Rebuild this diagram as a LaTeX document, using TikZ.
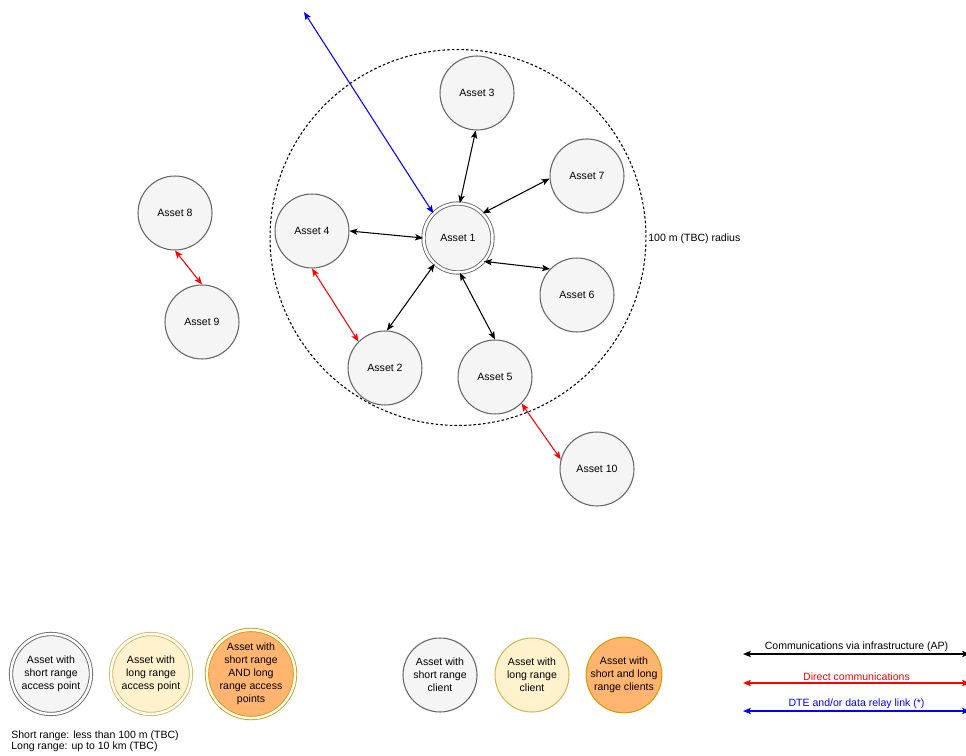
\documentclass[tikz,border=0pt]{standalone}
\usepackage{fontspec}
\setmainfont{Liberation Sans}
\usetikzlibrary{arrows.meta}

\definecolor{greyfill}{HTML}{F5F5F5}
\definecolor{greyline}{HTML}{666666}
\definecolor{yellowfill}{HTML}{FFF2CC}
\definecolor{yellowline}{HTML}{D6B656}
\definecolor{orangefill}{HTML}{FFB570}
\definecolor{orangeline}{HTML}{D79B00}

\begin{document}
\begin{tikzpicture}[x=0.02cm, y=-0.02cm,
    every node/.style={font=\fontsize{6}{7.4}\selectfont},
    asset/.style={circle, draw=greyline, fill=greyfill, line width=0.6pt,
      minimum size=1.48cm, inner sep=0pt, align=center},
    apoint/.style={asset, double=white, double distance=1.4pt, line width=0.5pt},
    link/.style={line width=0.6pt, {Stealth[length=4.5pt,width=3.6pt,inset=1pt]}-{Stealth[length=4.5pt,width=3.6pt,inset=1pt]}},
    infra/.style={link, black},
    direct/.style={link, red},
    relay/.style={link, blue},
    keylabel/.style={midway, above=1.2pt, inner sep=0pt}]
    \useasboundingbox (0,0) rectangle (966,756);
    \coordinate (R0) at (304,12);
    \coordinate (K0) at (743,654);
    \coordinate (K1) at (970,654);
    \coordinate (K2) at (743,683);
    \coordinate (K3) at (970,683);
    \coordinate (K4) at (743,711);
    \coordinate (K5) at (970,711);
    % 100 m zone
    \draw [line width=0.6pt, dash pattern=on 1.5pt off 1.2pt] (458,237.5) circle (3.76cm);
    \node [anchor=west, inner sep=0pt] at (648,239) {100 m (TBC) radius};
    % assets
    \node [apoint, minimum size=1.38cm] (A1) at (458,238) {Asset 1};
    \node [asset] (A2) at (385,368) {Asset 2};
    \node [asset] (A3) at (477,93) {Asset 3};
    \node [asset] (A4) at (312,231) {Asset 4};
    \node [asset] (A5) at (495,377) {Asset 5};
    \node [asset] (A6) at (577,295) {Asset 6};
    \node [asset] (A7) at (587,176) {Asset 7};
    \node [asset] (A8) at (175,213) {Asset 8};
    \node [asset] (A9) at (202,322) {Asset 9};
    \node [asset] (A10) at (597,469) {Asset 10};
      \draw [infra] (A1.87) -- (A3.268);
      \draw [infra] (A1.45) -- (A7.184);
      \draw [infra] (A1.180) -- (A4.0);
      \draw [infra] (A1.-42) -- (A6.136);
      \draw [infra] (A1.273) -- (A5.90);
      \draw [infra] (A1.228) -- (A2.87);
      \draw [direct] (A4.270) -- (A2.135);
      \draw [direct] (A8.270) -- (A9.90);
      \draw [direct] (A5.-45) -- (A10.165);
      \draw [relay] (A1.135) -- (R0);
    % legend
    \node [apoint, minimum size=1.6cm] (L1) at (51,674) {Asset with\\short range\\access point};
    \node [apoint, minimum size=1.6cm, draw=yellowline, fill=yellowfill] (L2) at (151,674) {Asset with\\long range\\access point};
    \node [apoint, minimum size=1.6cm, draw=orangeline, fill=orangefill] (L3) at (251,674) {Asset with\\short range\\AND long\\range access\\points};
    \node [asset] (L4) at (440,675) {Asset with\\short range\\client};
    \node [asset, draw=yellowline, fill=yellowfill] (L5) at (532,675) {Asset with\\long range\\client};
    \node [asset, draw=orangeline, fill=orangefill] (L6) at (624,675) {Asset with\\short and long\\range clients};
      \draw [infra] (K0) -- (K1) node [keylabel] {Communications via infrastructure (AP)};
      \draw [direct] (K2) -- (K3) node [keylabel, text=red] {Direct communications};
      \draw [relay] (K4) -- (K5) node [keylabel, text=blue] {DTE and/or data relay link (*)};
    \node [anchor=north west, align=left, inner sep=0pt, font=\fontsize{6}{6.2}\selectfont] (N0) at (11,731) {Short range: less than 100 m (TBC)\\Long range: up to 10 km (TBC)};
\end{tikzpicture}
\end{document}
